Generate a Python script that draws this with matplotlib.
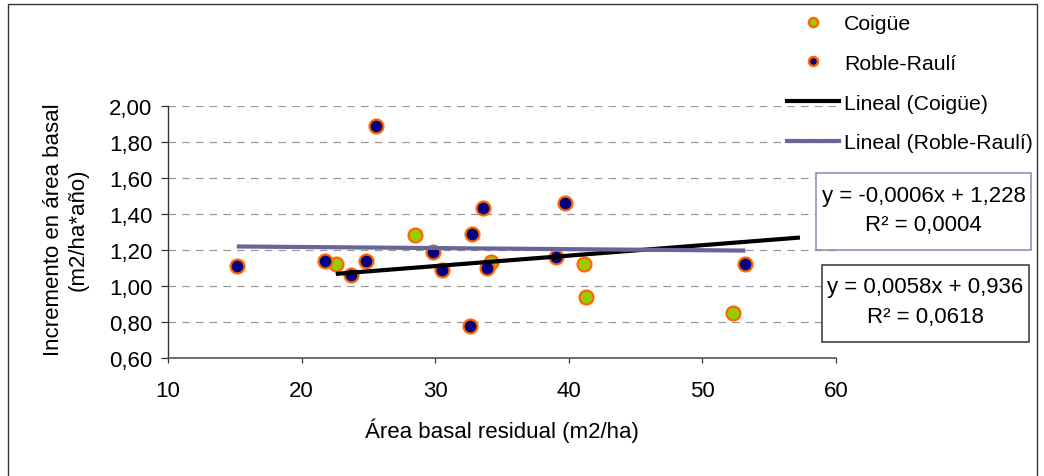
import matplotlib
matplotlib.use("Agg")
import matplotlib.pyplot as plt
import numpy as np
from matplotlib.lines import Line2D
from matplotlib.patches import Rectangle
from matplotlib.ticker import FuncFormatter

plt.rcParams['font.family'] = ['Liberation Sans', 'DejaVu Sans']

# ---- data ----
coigue_x = [22.56, 28.50, 34.17, 41.11, 41.26, 52.30]
coigue_y = [1.12, 1.28, 1.13, 1.12, 0.94, 0.85]

roble_x = [15.15, 21.76, 23.71, 24.81, 25.58, 29.87, 30.50, 32.62, 32.75,
           33.57, 33.87, 39.06, 39.74, 53.22]
roble_y = [1.11, 1.14, 1.06, 1.14, 1.89, 1.19, 1.09, 0.78, 1.29,
           1.43, 1.10, 1.16, 1.46, 1.12]

# trendlines as reported on the chart
coigue_slope, coigue_intercept, coigue_r2 = 0.0058, 0.936, 0.0618
roble_slope, roble_intercept, roble_r2 = -0.0006, 1.228, 0.0004
coigue_forecast = 5.0

series_labels = ["Coigüe", "Roble-Raulí", "Lineal (Coigüe)", "Lineal (Roble-Raulí)"]
x_ticks = [10, 20, 30, 40, 50, 60]
y_ticks = [0.60, 0.80, 1.00, 1.20, 1.40, 1.60, 1.80, 2.00]

# ---- figure ----
W, H = 1044, 477
fig = plt.figure(figsize=(W / 100, H / 100), dpi=100)
FS = 16

def fx(px):
    return px / W

def fy(py):
    return 1 - py / H

ax_left, ax_right, ax_top, ax_bottom = 168, 836, 106.7, 359
ax = fig.add_axes([fx(ax_left), fy(ax_bottom), (ax_right - ax_left) / W,
                   (ax_bottom - ax_top) / H])

green = '#99CC00'
navy = '#000080'
orange = '#FF6600'
slate = '#666699'

ax.plot(coigue_x, coigue_y, linestyle='none', marker='o', ms=10,
        mfc=green, mec=orange, mew=1.6, zorder=3, clip_on=False)
ax.plot(roble_x, roble_y, linestyle='none', marker='o', ms=10,
        mfc=navy, mec=orange, mew=1.6, zorder=4, clip_on=False)

cx = np.array([min(coigue_x), max(coigue_x) + coigue_forecast])
ax.plot(cx, coigue_slope * cx + coigue_intercept, color='black', lw=3,
        zorder=5, solid_capstyle='butt', clip_on=False)
rx = np.array([min(roble_x), max(roble_x)])
ax.plot(rx, roble_slope * rx + roble_intercept, color=slate, lw=3,
        zorder=5, solid_capstyle='butt', clip_on=False)

ax.set_xlim(10, 60)
ax.set_ylim(0.6, 2.0)
ax.set_xticks(x_ticks)
ax.set_yticks(y_ticks)
ax.yaxis.set_major_formatter(FuncFormatter(lambda v, p: f"{v:.2f}".replace('.', ',')))
ax.xaxis.set_major_formatter(FuncFormatter(lambda v, p: f"{v:g}"))

for yv in y_ticks[1:]:
    ax.axhline(yv, color='#999999', lw=0.9, dashes=(6, 5), zorder=1)

for s in ['top', 'right']:
    ax.spines[s].set_visible(False)
ax.spines['left'].set_color('#333333')
ax.spines['bottom'].set_color('#555555')
ax.spines['left'].set_linewidth(1.0)
ax.spines['bottom'].set_linewidth(1.2)
ax.tick_params(axis='y', direction='out', length=4.7, width=0.9, color='#333333',
               labelsize=FS, pad=6.5)
ax.tick_params(axis='x', direction='out', length=3.6, width=0.9, color='#333333',
               labelsize=FS, pad=12)

ax.set_xlabel("Área basal residual (m2/ha)", fontsize=FS, labelpad=12)
fig.text(fx(66), fy(230), "Incremento en área basal\n(m2/ha*año)", rotation=90,
         ha='center', va='center', fontsize=FS, linespacing=1.25)

# legend
LFS = 15.3
handles = [
    Line2D([], [], linestyle='none', marker='o', ms=6.5, mfc=green, mec=orange, mew=1.8),
    Line2D([], [], linestyle='none', marker='o', ms=6.5, mfc=navy, mec=orange, mew=1.8),
    Line2D([], [], color='black', lw=3),
    Line2D([], [], color=slate, lw=3),
]
fig.legend(handles, series_labels, loc='upper left',
           bbox_to_anchor=(fx(787), fy(15)), frameon=False, fontsize=LFS,
           handlelength=2.45, handletextpad=0.24, labelspacing=0.98,
           borderpad=0, borderaxespad=0)

# equation boxes
def eq_box(x0, y0, x1, y1, color, line1, line2, l1y, l2y):
    fig.patches.append(Rectangle((fx(x0), fy(y1)), (x1 - x0) / W, (y1 - y0) / H,
                                 transform=fig.transFigure, fill=True,
                                 facecolor='white', edgecolor=color, lw=1.1,
                                 zorder=6))
    cxm = (x0 + x1) / 2
    fig.text(fx(cxm), fy(l1y), line1, ha='center', va='center', fontsize=FS, zorder=7)
    fig.text(fx(cxm), fy(l2y), line2, ha='center', va='center', fontsize=FS, zorder=7)

def fmt(v, nd):
    return f"{v:.{nd}f}".replace('.', ',')

eq_box(816, 174, 1031, 251, '#8888BB',
       f"y = {fmt(roble_slope, 4)}x + {fmt(roble_intercept, 3)}",
       f"R² = {fmt(roble_r2, 4)}", 197, 226)
eq_box(822, 266, 1029, 343, '#333333',
       f"y = {fmt(coigue_slope, 4)}x + {fmt(coigue_intercept, 3)}",
       f"R² = {fmt(coigue_r2, 4)}", 288, 317)

# outer chart border
fig.patches.append(Rectangle((fx(8), fy(500)), (1037 - 8) / W, (500 - 5) / H,
                             transform=fig.transFigure, fill=False,
                             edgecolor='#333333', lw=1.0))

fig.savefig("out.png", dpi=100)
